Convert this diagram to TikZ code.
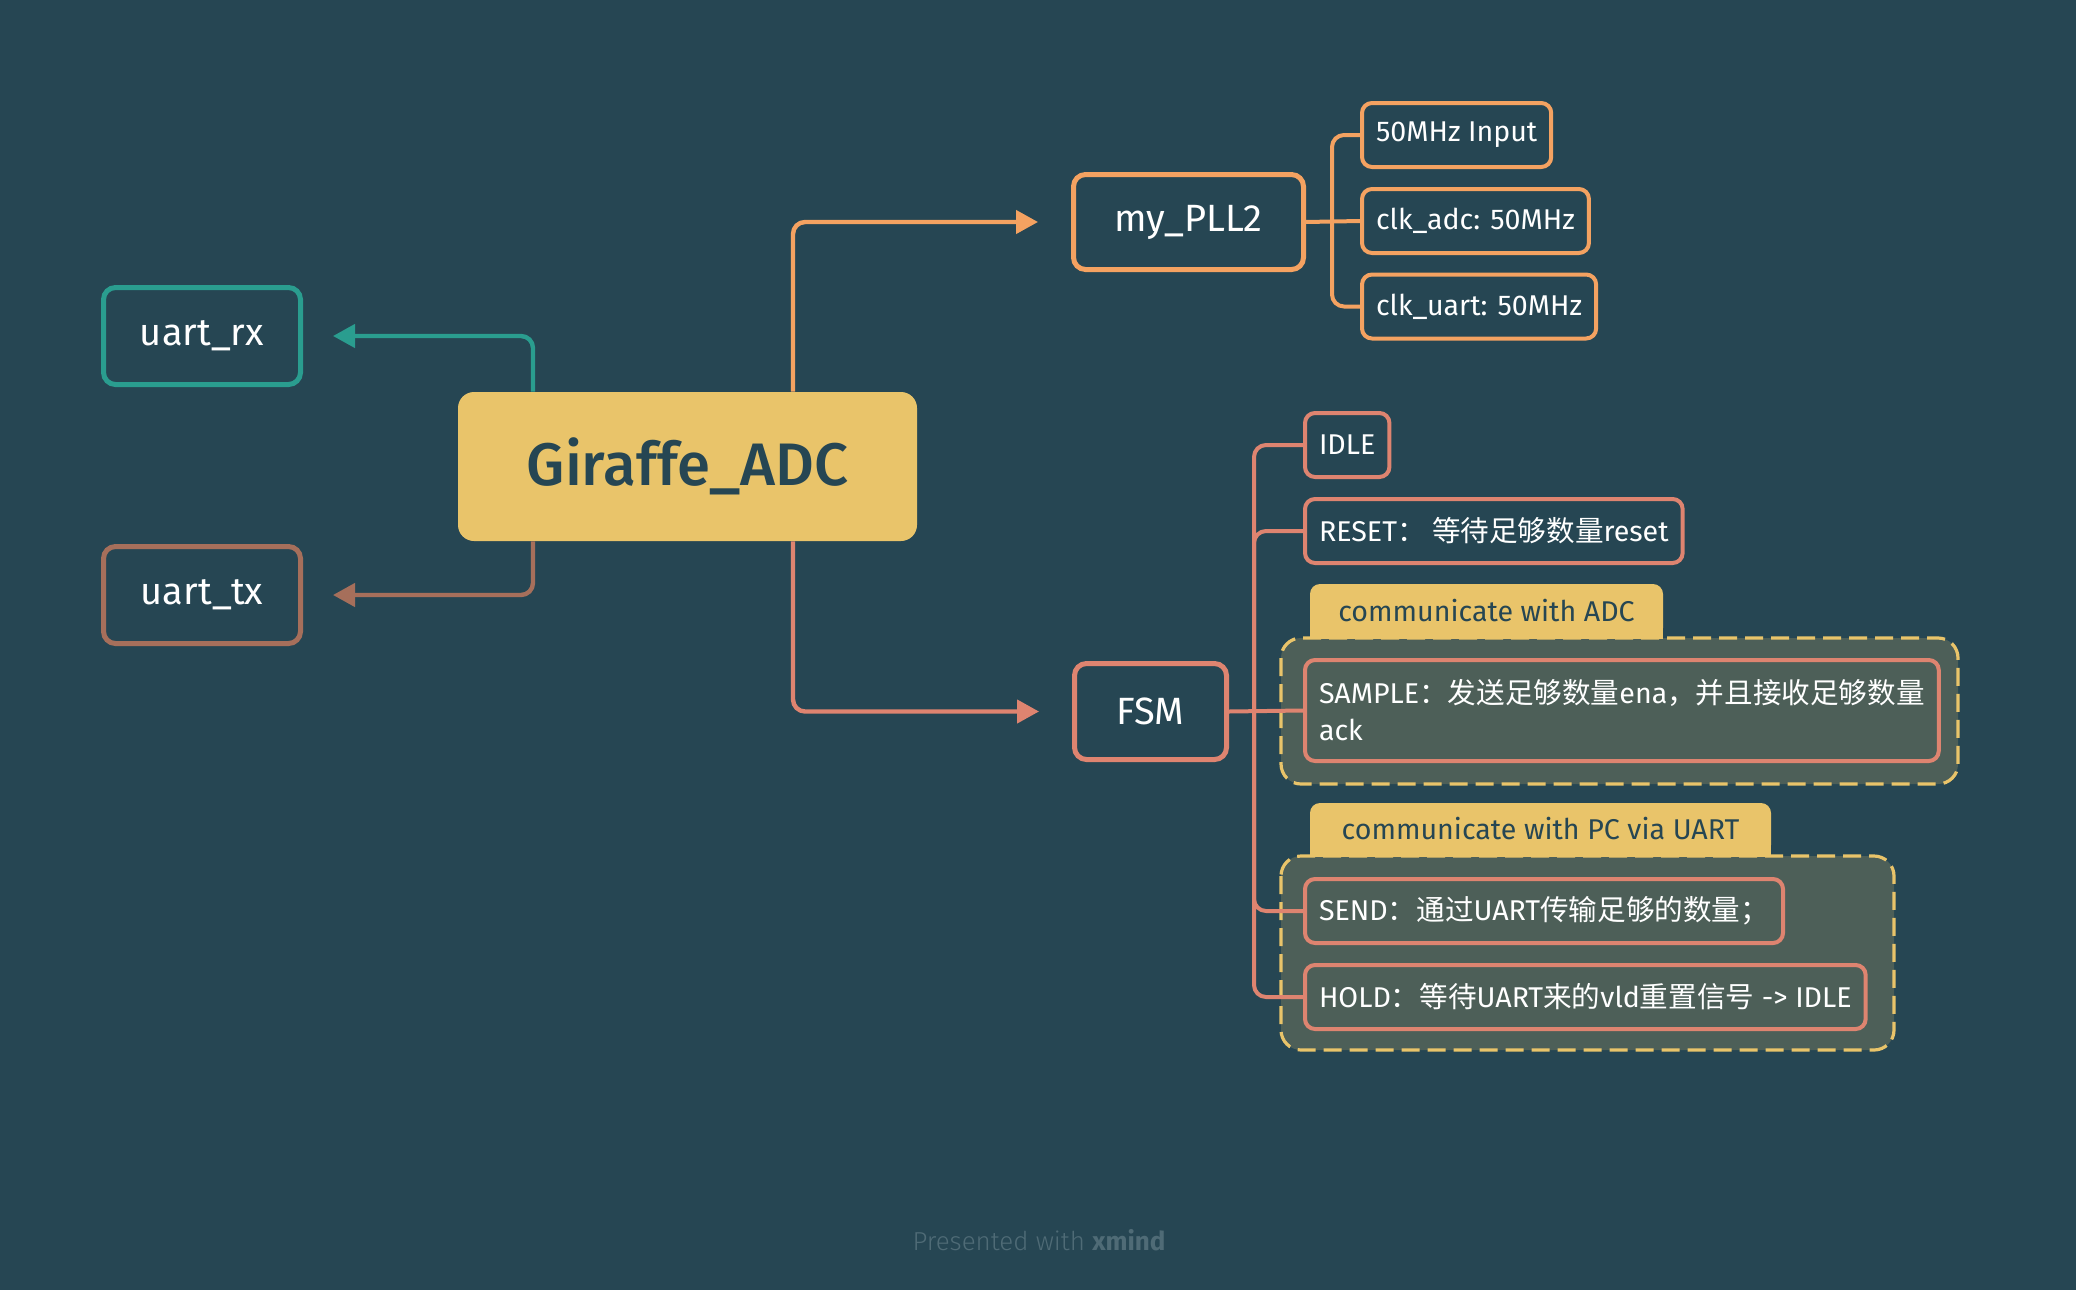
\documentclass[tikz,border=0pt]{standalone}
\usepackage{fontspec}
\setmainfont{Fira Sans}
\newfontfamily\medfont{Fira Sans}[UprightFont={* Medium}]
\newfontfamily\lightfont{Fira Sans}[UprightFont={* Light}, BoldFont={* Bold}]
\newfontfamily\cjk{Noto Sans CJK SC}
\usetikzlibrary{arrows.meta}
\definecolor{bgc}{HTML}{264653}
\definecolor{rootc}{HTML}{E9C46A}
\definecolor{rxc}{HTML}{2A9D8F}
\definecolor{txc}{HTML}{A66F5B}
\definecolor{pllc}{HTML}{F4A261}
\definecolor{fsmc}{HTML}{DE8470}
\definecolor{boundc}{HTML}{4D5F58}
\definecolor{footc}{HTML}{4F6B76}
\newcommand\rootfont{\medfont\fontsize{30}{34}\selectfont}
\newcommand\subfont{\fontsize{19}{22}\selectfont}
\newcommand\leaffont{\fontsize{14.3}{18.5}\selectfont}
\newcommand\footfont{\lightfont\fontsize{13}{16}\selectfont}
\tikzset{
  topic/.style={draw=#1, line width=2.5pt, rounded corners=6pt, text=white, font=\subfont, inner sep=0pt},
  leaf/.style={draw=#1, line width=2pt, rounded corners=5pt, text=white, font=\leaffont, anchor=west, align=left, inner xsep=7pt, inner ysep=0pt, minimum height=32pt},
  conn/.style={draw=#1, line width=2.2pt, rounded corners=6pt, -{Triangle[length=11pt,width=11.5pt]}},
  branchline/.style={draw=#1, line width=2pt, rounded corners=6pt},
  tablabel/.style={fill=rootc, text=bgc, font=\leaffont, rounded corners=5pt, inner sep=0pt},
  bound/.style={fill=boundc, draw=rootc, line width=1.6pt, dash pattern=on 9pt off 4pt, rounded corners=10pt},
}
\begin{document}
\begin{tikzpicture}[x=0.5pt,y=0.5pt,yscale=-1,xscale=1]
%set diagram size 2076 x 1290
\fill[bgc] (0,0) rectangle (2076,1290);

% Central Topic
\node [fill=rootc, text=bgc, rounded corners=8pt, minimum width=229.5pt, minimum height=74.5pt, font=\rootfont, inner sep=0pt] (root) at (687.5,466.5) {Giraffe\_ADC};

% Main Topics
\node [topic=rxc, minimum width=98.5pt, minimum height=48.5pt] (rx) at (202,336) {uart\_rx};
\node [topic=txc, minimum width=98.5pt, minimum height=48.5pt] (tx) at (202,595) {uart\_tx};
\node [topic=pllc, minimum width=115pt, minimum height=47.5pt] (pll) at (1188.5,222) {my\_PLL2};
\node [topic=fsmc, minimum width=76pt, minimum height=48pt] (fsm) at (1150.5,711.5) {FSM};

% Connectors
\draw [conn=rxc, shorten >=15pt] ([xshift=-77.25pt]root.north) |- (rx.east);
\draw [conn=txc, shorten >=15pt] ([xshift=-77.25pt]root.south) |- (tx.east);
\draw [conn=pllc, shorten >=16.5pt] ([xshift=52.75pt]root.north) |- (pll.west);
\draw [conn=fsmc, shorten >=16.5pt] ([xshift=52.75pt]root.south) |- (fsm.west);

% Subtopics of my_PLL2
\node [leaf=pllc] (in50) at (1360,135) {50MHz Input};
\node [leaf=pllc] (clkadc) at (1360,221) {clk\_adc: 50MHz};
\node [leaf=pllc] (clkuart) at (1360,306.5) {clk\_uart: 50MHz};
\coordinate (pllbus) at (1332,221);
\draw [branchline=pllc] (pll.east) -- (clkadc.west);
\draw [branchline=pllc] (pllbus) |- (in50.west);
\draw [branchline=pllc] (pllbus) |- (clkuart.west);

% Boundaries
\draw [bound] (1281,638) rectangle (1958,784);
\draw [bound] (1281,856) rectangle (1894,1050);
\fill [rootc] (1310,612) rectangle (1663,639);
\node [tablabel, minimum width=176.5pt, minimum height=27pt] (adclabel) at (1486.5,611) {communicate with ADC};
\fill [rootc] (1310,830) rectangle (1771,857);
\node [tablabel, minimum width=230.5pt, minimum height=26pt] (uartlabel) at (1540.5,829) {communicate with PC via UART};

% Subtopics of FSM
\node [leaf=fsmc] (idle) at (1303,445) {IDLE};
\node [leaf=fsmc] (reset) at (1303,531) {RESET{\cjk ：\ 等待足够数量}reset};
\node [leaf=fsmc, minimum height=50.5pt] (sample) at (1303,710.5) {SAMPLE{\cjk ：发送足够数量}ena{\cjk ，并且接收足够数量}\\ack};
\node [leaf=fsmc] (send) at (1303,911) {SEND{\cjk ：通过}UART{\cjk 传输足够的数量；}};
\node [leaf=fsmc] (hold) at (1303,997) {HOLD{\cjk ：等待}UART{\cjk 来的}vld{\cjk 重置信号} -> IDLE};
\coordinate (fsmbus) at (1254,711);
\draw [branchline=fsmc] (fsm.east) -- (sample.west);
\draw [branchline=fsmc] (fsmbus) |- (idle.west);
\draw [branchline=fsmc] (fsmbus) |- (reset.west);
\draw [branchline=fsmc] (fsmbus) |- (send.west);
\draw [branchline=fsmc] (fsmbus) |- (hold.west);

% Text Node
\node [font=\footfont, text=footc] (credit) at (1039,1240) {Presented with \textbf{xmind}};

\end{tikzpicture}
\end{document}
